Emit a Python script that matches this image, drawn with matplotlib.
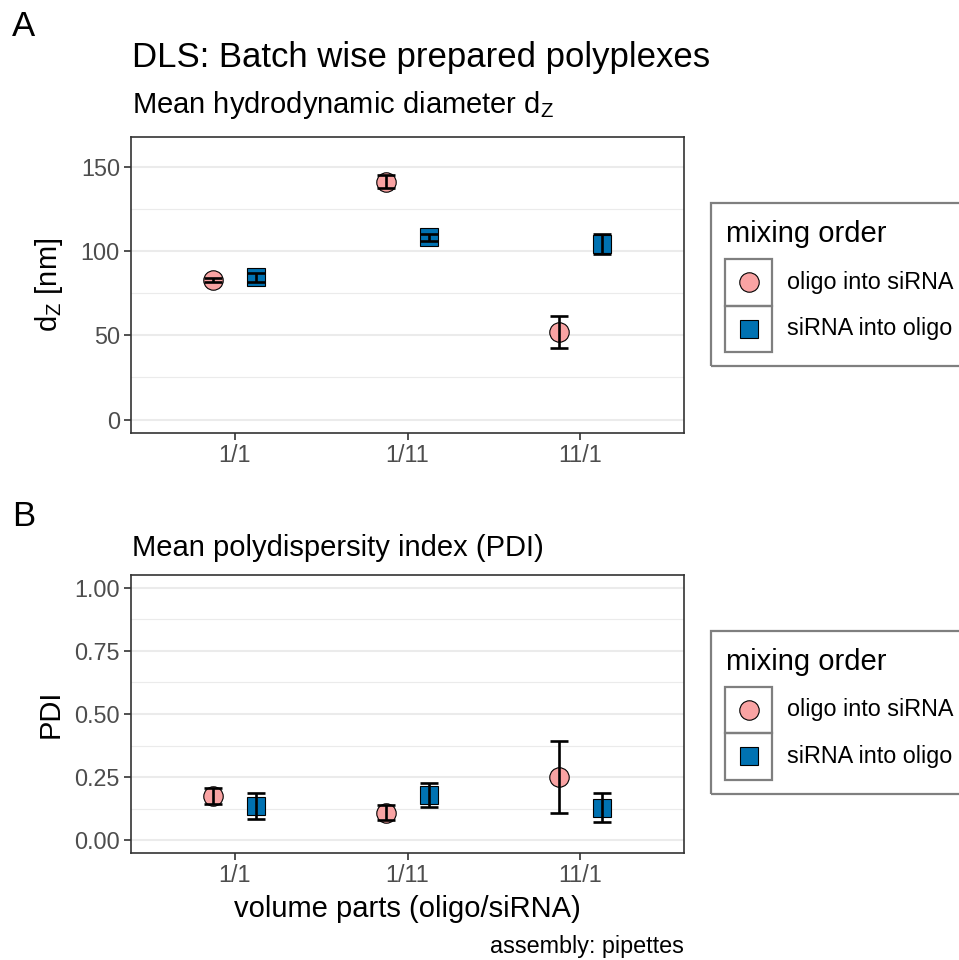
import numpy as np
import matplotlib
matplotlib.use('Agg')
import matplotlib.pyplot as plt
from matplotlib.lines import Line2D
from matplotlib.patches import Rectangle
from matplotlib.ticker import FormatStrFormatter

plt.rcParams['font.family'] = ['Liberation Sans', 'DejaVu Sans']
plt.rcParams['mathtext.fontset'] = 'custom'
plt.rcParams['mathtext.rm'] = 'Liberation Sans'
plt.rcParams['mathtext.it'] = 'Liberation Sans:italic'

W, H = 959, 960

def fx(px):
    return px / W

def fy(py):
    return 1 - py / H

# data
ratios = ['1/1', '1/11', '11/1']
groups = ['oligo into siRNA', 'siRNA into oligo']

dz_oligo = [83.0, 141.5, 52.3]
dz_oligo_sd = [1.2, 4.0, 9.5]
dz_sirna = [84.5, 108.3, 104.3]
dz_sirna_sd = [2.5, 2.0, 6.0]

pdi_oligo = [0.175, 0.110, 0.252]
pdi_oligo_sd = [0.033, 0.030, 0.142]
pdi_sirna = [0.135, 0.180, 0.130]
pdi_sirna_sd = [0.052, 0.048, 0.059]

markers = {groups[0]: 'o', groups[1]: 's'}
fills = {groups[0]: '#F9A3A3', groups[1]: '#0072B2'}
msizes = {groups[0]: 14, groups[1]: 13}
dodge = {groups[0]: -0.125, groups[1]: 0.125}

fig = plt.figure(figsize=(W / 100, H / 100), dpi=100)
ax1 = fig.add_axes([fx(131), fy(433), (684 - 131) / W, (433 - 137) / H])
ax2 = fig.add_axes([fx(131), fy(853), (684 - 131) / W, (853 - 575) / H])


def panel(ax, series, ylim, yticks, yminor, fmt):
    x = np.arange(1, len(ratios) + 1)
    for g, (mean, sd) in series.items():
        xs = x + dodge[g]
        ax.plot(xs, mean, ls='none', marker=markers[g], ms=msizes[g],
                mfc=fills[g], mec='black', mew=0.8, zorder=3)
        ax.errorbar(xs, mean, yerr=sd, fmt='none', ecolor='black',
                    elinewidth=1.9, capsize=6.5, capthick=1.9, zorder=4)
    ax.set_xlim(0.4, 3.6)
    ax.set_ylim(*ylim)
    ax.set_xticks(x, ratios)
    ax.set_yticks(yticks)
    ax.set_yticks(yminor, minor=True)
    ax.yaxis.set_major_formatter(fmt)
    ax.grid(axis='y', which='major', color='#ebebeb', lw=1.5)
    ax.grid(axis='y', which='minor', color='#ebebeb', lw=0.8)
    ax.set_axisbelow(True)
    ax.tick_params(which='major', length=5, width=1.2, color='#333333',
                   labelsize=16.8, labelcolor='#4d4d4d', pad=3)
    ax.tick_params(which='minor', length=0)
    for s in ax.spines.values():
        s.set_color('#333333')
        s.set_linewidth(1.2)


panel(ax1, {groups[0]: (dz_oligo, dz_oligo_sd), groups[1]: (dz_sirna, dz_sirna_sd)},
      (-8, 168), [0, 50, 100, 150], [25, 75, 125], FormatStrFormatter('%d'))
panel(ax2, {groups[0]: (pdi_oligo, pdi_oligo_sd), groups[1]: (pdi_sirna, pdi_sirna_sd)},
      (-0.05, 1.05), [0, 0.25, 0.5, 0.75, 1.0], [0.125, 0.375, 0.625, 0.875],
      FormatStrFormatter('%.2f'))

ax1.set_ylabel(r'd$_\mathregular{Z}$ [nm]', fontsize=21)
ax2.set_ylabel('PDI', fontsize=21)
ax1.yaxis.set_label_coords(-0.12, 0.5)
ax2.yaxis.set_label_coords(-0.12, 0.5)
ax2.set_xlabel('volume parts (oligo/siRNA)', fontsize=21, labelpad=6)

# titles and tags
fig.text(fx(12), fy(27), 'A', fontsize=25, va='center')
fig.text(fx(132), fy(67), 'DLS: Batch wise prepared polyplexes', fontsize=25, va='baseline')
fig.text(fx(132), fy(113), r'Mean hydrodynamic diameter d$_\mathregular{Z}$', fontsize=21, va='baseline')
fig.text(fx(12), fy(517), 'B', fontsize=25, va='center')
fig.text(fx(132), fy(556), 'Mean polydispersity index (PDI)', fontsize=21, va='baseline')
fig.text(fx(684), fy(953), 'assembly: pipettes', fontsize=16.8, ha='right', va='baseline')


def legend(cy):
    top = cy - 81.5
    fig.add_artist(Rectangle((fx(711), fy(cy + 81.5)), (990 - 711) / W, 163 / H,
                             transform=fig.transFigure, fill=False,
                             ec='#7f7f7f', lw=1.6))
    fig.text(fx(726), fy(top + 31), 'mixing order', fontsize=21, va='center')
    for i, g in enumerate(groups):
        y0 = top + 56 + i * 46.5
        fig.add_artist(Rectangle((fx(725), fy(y0 + 46.5)), 47 / W, 46.5 / H,
                                 transform=fig.transFigure, fill=False,
                                 ec='#7f7f7f', lw=1.6))
        fig.add_artist(Line2D([fx(748.5)], [fy(y0 + 23.25)], transform=fig.transFigure,
                              ls='none', marker=markers[g], ms=msizes[g],
                              mfc=fills[g], mec='black', mew=0.8))
        fig.text(fx(787), fy(y0 + 23.25), g, fontsize=16.8, va='center')


legend(284.5)
legend(712)

fig.savefig('out.png', dpi=100)
